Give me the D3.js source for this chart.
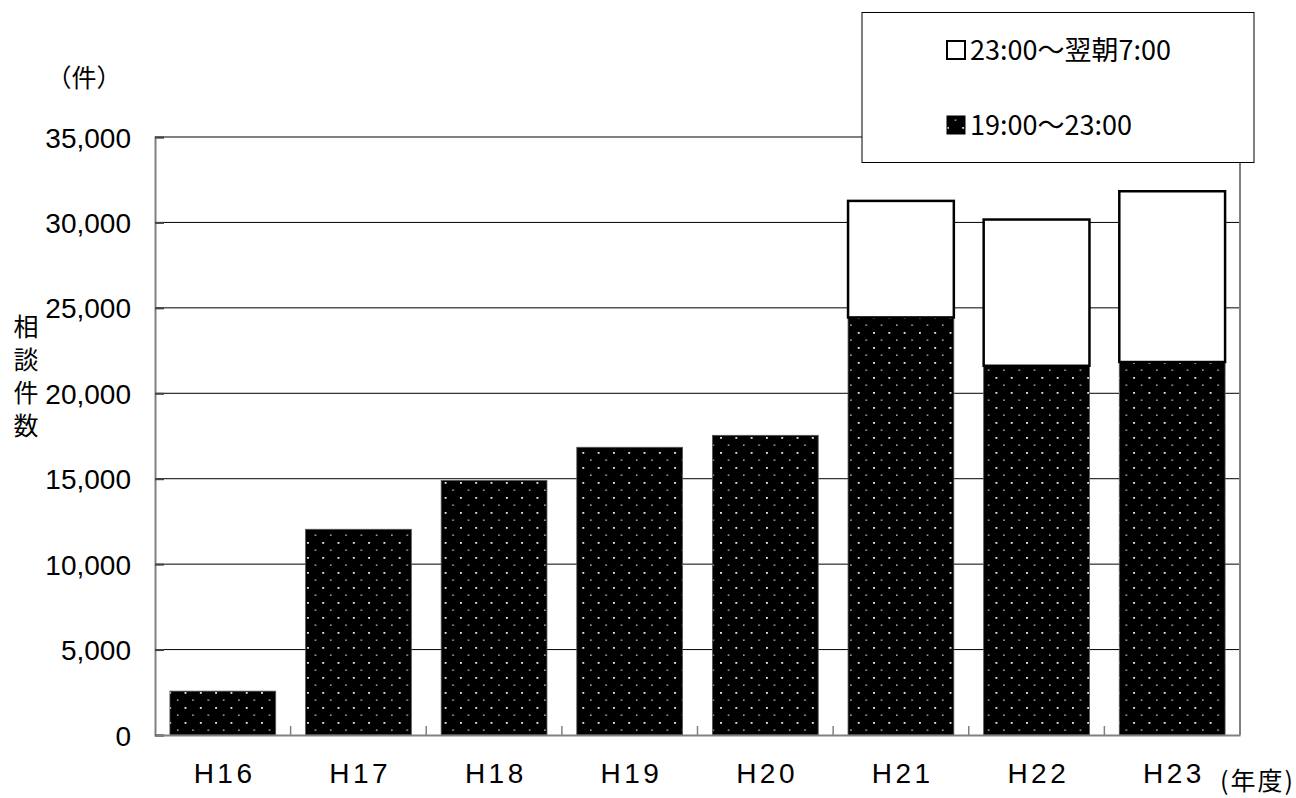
<!DOCTYPE html>
<html>
<head>
<meta charset="utf-8">
<script src="https://cdn.jsdelivr.net/npm/d3@7"></script>
<style>
  body { margin: 0; background: #fff; }
  text { font-family: "Liberation Sans", Arial, "Noto Sans CJK JP", sans-serif; fill: #000; }
  .jp { font-family: "Noto Sans CJK JP", sans-serif; }
</style>
</head>
<body>
<script>
const years = ["H16", "H17", "H18", "H19", "H20", "H21", "H22", "H23"];
const evening = [2567, 12040, 14900, 16840, 17540, 24440, 21610, 21830]; // 19:00～23:00
const night = [0, 0, 0, 0, 0, 6820, 8560, 9995]; // 23:00～翌朝7:00
const yTicks = [0, 5000, 10000, 15000, 20000, 25000, 30000, 35000];
const legendLabels = ["23:00～翌朝7:00", "19:00～23:00"];

const width = 1296,
  height = 798,
  margin = { top: 137, right: 56, bottom: 63, left: 155 },
  frameColor = "#808080",
  gridColor = "#000";

const svg = d3
  .select("body")
  .append("svg")
  .attr("width", width)
  .attr("height", height);

// dotted fill used for the evening series
const defs = svg.append("defs");
const pat = defs
  .append("pattern")
  .attr("id", "dots")
  .attr("patternUnits", "userSpaceOnUse")
  .attr("width", 15.3)
  .attr("height", 15);
pat.append("rect").attr("width", 15.3).attr("height", 15).attr("fill", "#000");
pat.append("rect").attr("x", 1).attr("y", 2).attr("width", 1.8).attr("height", 1.8).attr("fill", "#f2f2f2");
pat.append("rect").attr("x", 8.6).attr("y", 9.5).attr("width", 1.6).attr("height", 1.3).attr("fill", "#c8c8c8");

const x = d3
  .scaleBand()
  .domain(years)
  .range([margin.left, width - margin.right])
  .paddingInner(0.22)
  .paddingOuter(0.11);

const y = d3
  .scaleLinear()
  .domain([0, 35000])
  .range([height - margin.bottom, margin.top]);

// gridlines
svg
  .append("g")
  .selectAll("line")
  .data(yTicks.filter((d) => d > 0 && d < 35000))
  .join("line")
  .attr("x1", margin.left)
  .attr("x2", width - margin.right)
  .attr("y1", (d) => y(d))
  .attr("y2", (d) => y(d))
  .attr("stroke", gridColor)
  .attr("stroke-width", 1);

// frame top / right
svg
  .append("path")
  .attr("d", `M${margin.left},${y(35000)}H${width - margin.right}V${y(0)}`)
  .attr("fill", "none")
  .attr("stroke", frameColor)
  .attr("stroke-width", 2);

const data = years.map((d, i) => ({ year: d, evening: evening[i], night: night[i] }));

// evening bars
svg
  .append("g")
  .selectAll("rect")
  .data(data)
  .join("rect")
  .attr("x", (d) => x(d.year))
  .attr("width", x.bandwidth())
  .attr("y", (d) => y(d.evening))
  .attr("height", (d) => y(0) - y(d.evening))
  .attr("fill", "url(#dots)")
  .attr("stroke", "#555")
  .attr("stroke-width", 0.8);

// night bars (stacked)
svg
  .append("g")
  .selectAll("rect")
  .data(data.filter((d) => d.night > 0))
  .join("rect")
  .attr("x", (d) => x(d.year))
  .attr("width", x.bandwidth())
  .attr("y", (d) => y(d.evening + d.night))
  .attr("height", (d) => y(d.evening) - y(d.evening + d.night))
  .attr("fill", "#fff")
  .attr("stroke", "#000")
  .attr("stroke-width", 2.5);

// y axis
const yAxis = svg
  .append("g")
  .attr("transform", `translate(${margin.left},0)`)
  .call(
    d3
      .axisLeft(y)
      .tickValues(yTicks)
      .tickSize(-9)
      .tickPadding(24)
      .tickFormat(d3.format(","))
  );
yAxis.select(".domain").attr("stroke", frameColor).attr("stroke-width", 2);
yAxis.selectAll(".tick line").attr("stroke", "#444").attr("stroke-width", 2);
yAxis.selectAll(".tick text").attr("font-size", 28).attr("dy", "0.36em");

// x axis
const xAxis = svg
  .append("g")
  .attr("transform", `translate(0,${y(0)})`)
  .call(d3.axisBottom(x).tickSize(0).tickPadding(28));
xAxis.select(".domain").attr("stroke", frameColor).attr("stroke-width", 2);
xAxis
  .selectAll(".tick text")
  .attr("font-size", 28)
  .attr("letter-spacing", 3.5)
  .attr("dx", 1.75)
  .attr("dy", "0.71em");

// category separator ticks pointing up
svg
  .append("g")
  .selectAll("line")
  .data(years.slice(1))
  .join("line")
  .attr("x1", (d) => x(d) - (x.step() * x.paddingInner()) / 2)
  .attr("x2", (d) => x(d) - (x.step() * x.paddingInner()) / 2)
  .attr("y1", y(0))
  .attr("y2", y(0) - 9)
  .attr("stroke", frameColor)
  .attr("stroke-width", 1.5);

// axis titles
svg
  .append("text")
  .attr("class", "jp")
  .attr("x", 84)
  .attr("y", 87)
  .attr("text-anchor", "middle")
  .attr("font-size", 25)
  .text("（件）");

svg
  .append("text")
  .attr("class", "jp")
  .attr("x", 1295)
  .attr("y", 790)
  .attr("text-anchor", "end")
  .attr("font-size", 25)
  .attr("letter-spacing", 2)
  .text("(年度)");

const yTitle = svg
  .append("text")
  .attr("class", "jp")
  .attr("x", 26)
  .attr("y", 336)
  .attr("text-anchor", "middle")
  .attr("font-size", 25);
yTitle
  .selectAll("tspan")
  .data(["相", "談", "件", "数"])
  .join("tspan")
  .attr("x", 26)
  .attr("dy", (d, i) => (i === 0 ? 0 : 33))
  .text((d) => d);

// legend
const legend = svg.append("g");
legend
  .append("rect")
  .attr("x", 862)
  .attr("y", 12.5)
  .attr("width", 392)
  .attr("height", 150)
  .attr("fill", "#fff")
  .attr("stroke", "#000")
  .attr("stroke-width", 1);

const legendItems = legend
  .selectAll("g")
  .data(legendLabels)
  .join("g")
  .attr("transform", (d, i) => `translate(946,${50 + i * 75})`);

legendItems
  .append("rect")
  .attr("x", 1)
  .attr("y", -9)
  .attr("width", 18)
  .attr("height", 18)
  .attr("fill", (d, i) => (i === 0 ? "#fff" : "url(#dots)"))
  .attr("stroke", "#000")
  .attr("stroke-width", (d, i) => (i === 0 ? 2 : 1));

legendItems
  .append("text")
  .attr("x", 24)
  .attr("dy", "0.36em")
  .attr("font-size", 27)
  .attr("class", "jp")
  .text((d) => d);
</script>
</body>
</html>
